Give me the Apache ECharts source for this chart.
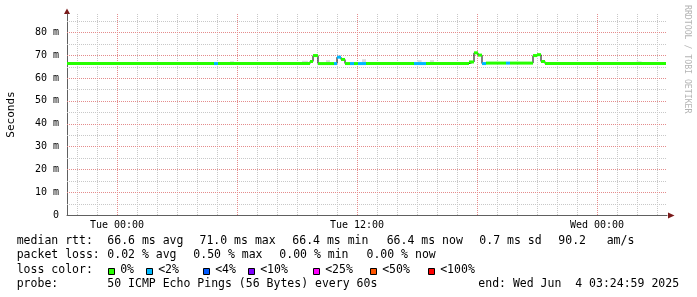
<!DOCTYPE html>
<html><head><meta charset="utf-8">
<script src="https://cdn.jsdelivr.net/npm/echarts@6/dist/echarts.min.js"></script>
<style>html,body{margin:0;padding:0;background:#fff;}#c{width:697px;height:297px;}</style>
</head><body><div id="c"></div>
<script>
// ---- data (hours relative to Tue 00:00) ----
const lossLabels = ['0%', '<2%', '<4%', '<10%', '<25%', '<50%', '<100%'];
const lossColors = ['#26ff00', '#00b8ff', '#0059ff', '#7e00ff', '#ff00ff', '#ff5500', '#ff0000'];

const stepStart  = [-2.5, 4.85, 5.05, 9.65, 9.8, 10.05, 10.85, 11.0, 11.2, 11.4, 11.65, 11.85, 12.05, 12.45, 14.85, 15.45, 17.6, 17.85, 18.05, 18.25, 18.45, 19.45, 19.65, 20.8, 21.0, 21.2, 21.4];
const stepMedian = [66.3, 66.3, 66.3, 67.2, 69.8, 66.3, 66.3, 69.1, 68.1, 66.3, 66.3, 66.3, 66.3, 66.3, 66.3, 66.3, 67.0, 71.0, 70.0, 66.3, 66.5, 66.5, 66.5, 69.8, 70.2, 67.2, 66.3];
const stepLoss   = [0, 1, 0, 0, 0, 0, 1, 1, 0, 0, 1, 0, 1, 0, 1, 0, 0, 0, 0, 1, 0, 1, 0, 0, 0, 0, 0];
const lastHour = 27.45;

const smokeStart = [5.65, 9.25, 10.45, 12.25, 15.03, 15.65, 25.98];
const smokeEnd   = [5.85, 9.55, 10.65, 12.45, 15.23, 15.85, 26.23];
const smokeLow   = [66.3, 66.3, 66.3, 66.3, 66.3, 66.3, 66.3];
const smokeHigh  = [67.3, 67.5, 67.8, 68.2, 67.8, 67.8, 67.3];

const xMin = -2.5, xMax = 27.5;
const xTickHours  = [0, 12, 24];
const xTickLabels = ['Tue 00:00', 'Tue 12:00', 'Wed 00:00'];
const majorGridHours = [0, 6, 12, 18, 24];
const yMax = 88;
const yMajorGrid = [10, 20, 30, 40, 50, 60, 70, 80];
const yMinorGrid = [5, 15, 25, 35, 45, 55, 65, 75, 85];

const medianStats = ['66.6 ms avg', '71.0 ms max', '66.4 ms min', '66.4 ms now', '0.7 ms sd', '90.2', 'am/s'];
const lossStats   = ['0.02 % avg', '0.50 % max', '0.00 % min', '0.00 % now'];
const probeText   = '50 ICMP Echo Pings (56 Bytes) every 60s';
const endText     = 'end: Wed Jun  4 03:24:59 2025';

// ---- build ----
const minorGridHours = [];
for (let h = Math.ceil(xMin); h <= Math.floor(xMax); h++) if (majorGridHours.indexOf(h) < 0) minorGridHours.push(h);

const medianBars = stepStart.map((t, i) => [t, i + 1 < stepStart.length ? stepStart[i + 1] : lastHour, stepMedian[i], stepLoss[i]]);
const medianLine = stepStart.map((t, i) => [t, stepMedian[i]]);
medianLine.push([lastHour, stepMedian[stepMedian.length - 1]]);
const smoke = smokeStart.map((t, i) => [t, smokeEnd[i], smokeLow[i], smokeHigh[i]]);

const MONO = '"DejaVu Sans Mono"';
const legendFont = '11.5px ' + MONO;
const GRID_MINOR = '#c8c8c8', GRID_MAJOR = '#e48c8c';

const graphics = [];
function txt(x, y, s) {
  graphics.push({type: 'text', x: x, y: y, silent: true,
    style: {text: s, font: legendFont, fill: '#000', textAlign: 'left', verticalAlign: 'middle', textVerticalAlign: 'middle'}});
}
const rowY = [241, 255.3, 269.6, 283.6];
const medX = [107.3, 199.5, 292.3, 386.7, 479.3, 558.3, 606.7];
const lossX = [107.3, 193.3, 279.3, 366.5];
txt(16.7, rowY[0], 'median rtt:');
medianStats.forEach((s, i) => txt(medX[i], rowY[0], s));
txt(16.7, rowY[1], 'packet loss:');
lossStats.forEach((s, i) => txt(lossX[i], rowY[1], s));
txt(16.7, rowY[2], 'loss color:');
const swX = [108.5, 146.5, 203.5, 248.5, 313.5, 370.5, 428.5];
lossLabels.forEach((s, i) => {
  graphics.push({type: 'rect', silent: true, shape: {x: swX[i], y: 268.5, width: 6, height: 6},
    style: {fill: lossColors[i], stroke: '#000', lineWidth: 1}});
  txt(swX[i] + 11.7, rowY[2], s);
});
txt(16.7, rowY[3], 'probe:');
txt(107.3, rowY[3], probeText);
txt(478.3, rowY[3], endText);
// axis arrows
graphics.push({type: 'polygon', silent: true, shape: {points: [[67, 8.5], [64, 14], [70, 14]]}, style: {fill: '#7a1a1a'}});
graphics.push({type: 'polygon', silent: true, shape: {points: [[674.5, 215.5], [668, 212.5], [668, 218.5]]}, style: {fill: '#7a1a1a'}});
// watermark
graphics.push({type: 'text', x: 687.5, y: 5, rotation: -Math.PI / 2, silent: true,
  style: {text: 'RRDTOOL / TOBI OETIKER', font: '8.2px ' + MONO, fill: '#b4b4b4', textAlign: 'left', verticalAlign: 'middle', textVerticalAlign: 'middle'}});

// dotted grid lines drawn through the axes' scales
function vGridSeries(hours, color, z) {
  return {
    type: 'custom', silent: true, z: z, encode: {x: 0, y: 1},
    data: hours.map(h => [h, 0]),
    renderItem: (params, api) => {
      const top = api.coord([api.value(0), yMax]);
      const bot = api.coord([api.value(0), 0]);
      const x = Math.round(top[0]) + 0.5;
      return {type: 'line', silent: true, shape: {x1: x, y1: top[1], x2: x, y2: bot[1]},
        style: {stroke: color, lineWidth: 1, lineDash: [1, 1]}};
    }
  };
}
function hGridSeries(values, color, z) {
  return {
    type: 'custom', silent: true, z: z, encode: {x: 0, y: 1},
    data: values.map(v => [xMin, v]),
    renderItem: (params, api) => {
      const l = api.coord([xMin, api.value(1)]);
      const r = api.coord([xMax, api.value(1)]);
      const y = Math.round(l[1]) + 0.5;
      return {type: 'line', silent: true, shape: {x1: l[0], y1: y, x2: r[0], y2: y},
        style: {stroke: color, lineWidth: 1, lineDash: [1, 1]}};
    }
  };
}

const chart = echarts.init(document.getElementById('c'), null, {renderer: 'canvas'});
chart.setOption({
  animation: false,
  backgroundColor: '#ffffff',
  grid: {left: 67, right: 30, top: 14, bottom: 82, containLabel: false, outerBoundsMode: 'none'},
  xAxis: {
    type: 'value', min: xMin, max: xMax, interval: 0.5,
    axisLine: {show: true, onZero: false, lineStyle: {color: '#606060', width: 1}},
    axisTick: {show: false},
    axisLabel: {
      formatter: v => { const k = xTickHours.indexOf(v); return k >= 0 ? xTickLabels[k] : ''; },
      fontFamily: MONO, fontSize: 10, color: '#000', margin: 5
    },
    splitLine: {show: false}
  },
  yAxis: {
    type: 'value', min: 0, max: yMax, interval: 5,
    axisLine: {show: true, onZero: false, lineStyle: {color: '#606060', width: 1}},
    axisTick: {show: false},
    axisLabel: {formatter: v => v === 0 ? '0' : (v % 10 === 0 ? v + ' m' : ''),
      fontFamily: MONO, fontSize: 10, color: '#000', margin: 8},
    splitLine: {show: false},
    name: 'Seconds', nameLocation: 'middle', nameRotate: 90, nameGap: 50,
    nameTextStyle: {fontFamily: MONO, fontSize: 11, color: '#000'}
  },
  series: [
    hGridSeries(yMinorGrid, GRID_MINOR, 1),
    vGridSeries(minorGridHours, GRID_MINOR, 1),
    hGridSeries(yMajorGrid, GRID_MAJOR, 1),
    vGridSeries(majorGridHours, GRID_MAJOR, 1),
    {
      type: 'custom', name: 'smoke', z: 2,
      encode: {x: [0, 1], y: [2, 3]},
      data: smoke,
      renderItem: (params, api) => {
        const a = api.coord([api.value(0), api.value(3)]);
        const b = api.coord([api.value(1), api.value(2)]);
        return {type: 'rect', shape: {x: a[0], y: a[1], width: b[0] - a[0], height: b[1] - a[1]}, style: {fill: '#dcdcdc'}};
      }
    },
    {
      type: 'line', name: 'median', z: 3,
      step: 'end', symbol: 'none', data: medianLine,
      lineStyle: {color: '#000', width: 1}
    },
    {
      type: 'custom', name: 'loss', z: 4,
      encode: {x: [0, 1], y: 2},
      data: medianBars,
      renderItem: (params, api) => {
        const a = api.coord([api.value(0), api.value(2)]);
        const b = api.coord([api.value(1), api.value(2)]);
        return {type: 'rect', shape: {x: a[0], y: a[1] - 1.5, width: b[0] - a[0], height: 3},
          style: {fill: lossColors[api.value(3)]}};
      }
    }
  ],
  graphic: graphics
});
</script></body></html>
